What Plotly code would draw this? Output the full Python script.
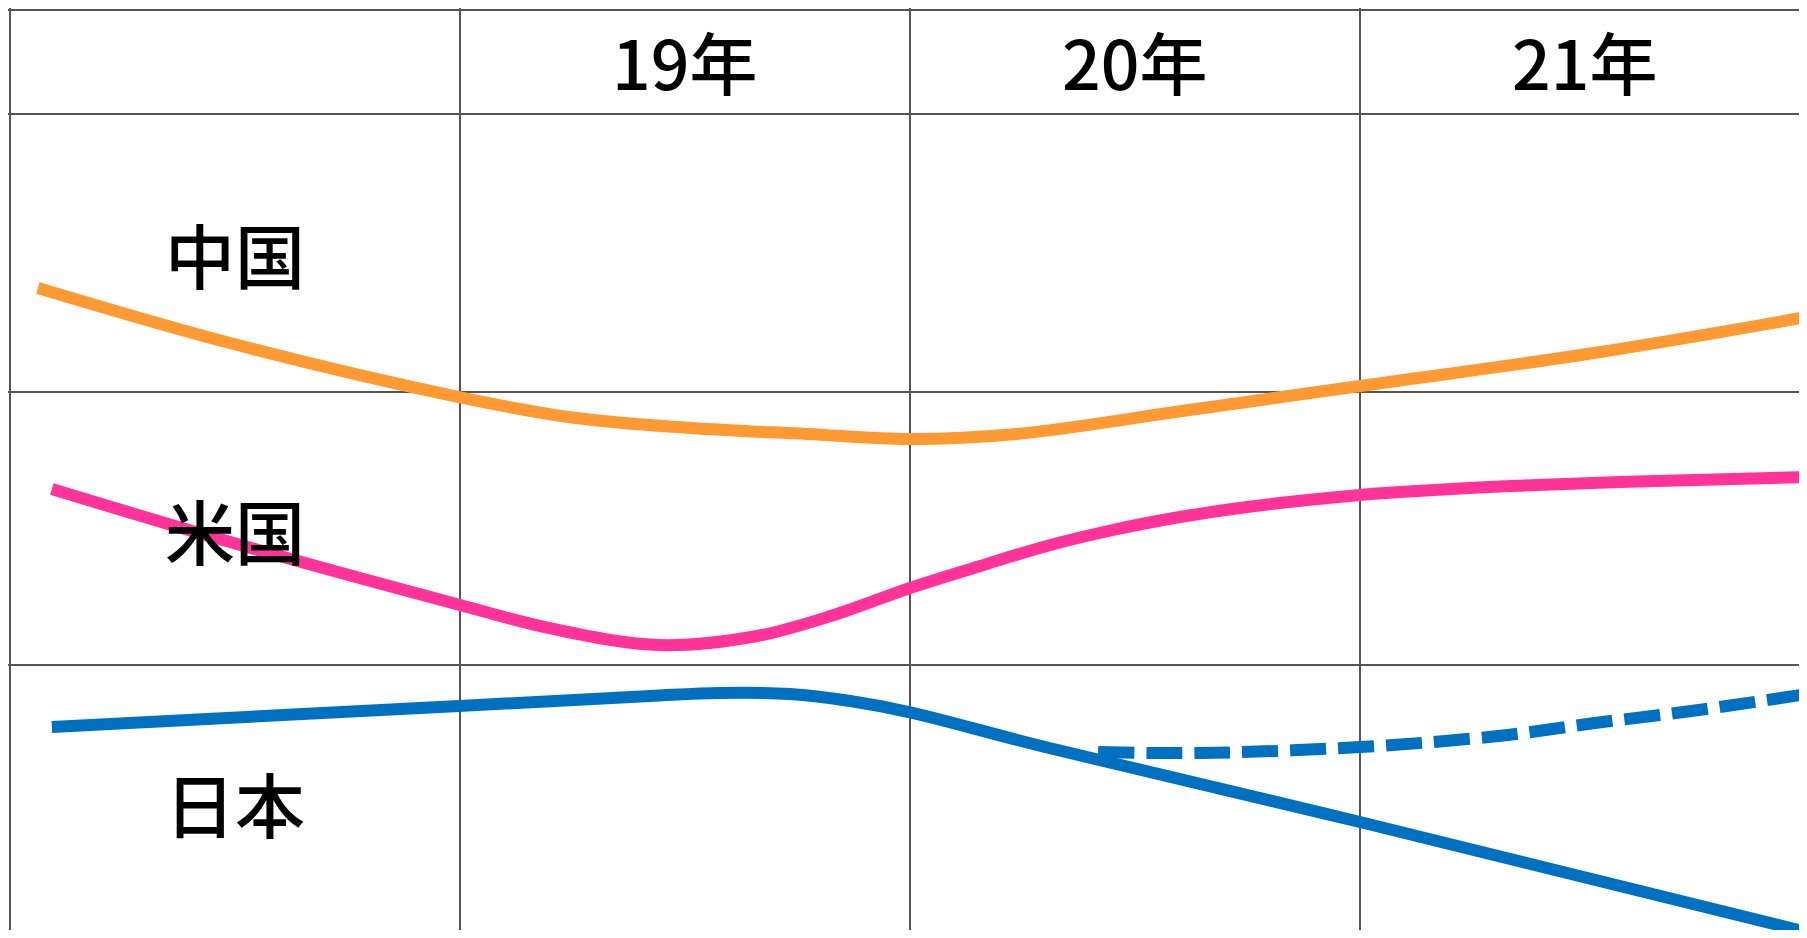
import plotly.graph_objects as go

# ---------------- data ----------------
col_labels = ["19年", "20年", "21年"]          # header cells (columns 1..3)
row_labels = ["中国", "米国", "日本"]          # row label cells (top to bottom)

# x in column units (0 = left edge of label column, 1 = start of 19年 ...)
china_x = [0.062, 0.489, 0.998, 1.258, 1.513, 1.771, 1.998, 2.236, 2.620, 3.000, 3.520, 3.993]
china_y = [69.67, 63.77, 57.98, 55.73, 54.66, 54.02, 53.48, 54.02, 56.59, 59.16, 62.70, 66.56]

usa_x = [0.093, 0.489, 1.000, 1.207, 1.444, 1.660, 1.831, 2.000, 2.156, 2.304, 2.451,
         2.600, 2.749, 3.000, 3.089, 3.311, 3.578, 3.993]
usa_y = [48.12, 42.44, 35.69, 33.12, 31.40, 32.37, 34.62, 37.51, 39.87, 42.02, 43.73,
         45.12, 46.20, 47.48, 47.80, 48.39, 48.87, 49.41]

japan_x = [0.093, 0.998, 1.422, 1.578, 1.733, 1.867, 1.998, 2.300, 3.000, 3.993]
japan_y = [22.62, 24.87, 25.94, 26.26, 26.15, 25.40, 24.22, 20.47, 12.43, 0.64]

japan_alt_x = [2.418, 2.644, 3.000, 3.307, 3.522, 3.753, 3.993]
japan_alt_y = [19.94, 19.83, 20.47, 21.65, 23.04, 24.44, 26.15]

# ---------------- table layout ----------------
col_edges = [0, 1, 2, 3]
row_edges = [29.26, 58.52, 88.32]             # horizontal rules between rows
TOP_RULE = 99.5

W, H = 1791, 922                               # fits inside the page's default body margin
COL_PX = 450.0                                 # pixels per column
Y_PX = 9.33                                    # pixels per value unit
X0_PX = 2                                      # figure-x of the table's left rule
Y0_PX = 930                                    # figure-y of value 0
X_RANGE = [-X0_PX / COL_PX, (W - X0_PX) / COL_PX]
Y_RANGE = [(Y0_PX - H) / Y_PX, Y0_PX / Y_PX]

FONT = "Noto Sans CJK JP, Noto Sans CJK SC, sans-serif"
GRID = "#555555"
LW = 12

fig = go.Figure()

series = [
    (china_x, china_y, "#FF9933", "solid"),
    (usa_x, usa_y, "#FF3399", "solid"),
    (japan_x, japan_y, "#0070C0", "solid"),
    (japan_alt_x, japan_alt_y, "#0070C0", "36px,12px"),
]
for xs, ys, col, dash in series:
    fig.add_trace(go.Scatter(x=xs, y=ys, mode="lines",
                             line=dict(color=col, width=LW, shape="spline",
                                       smoothing=1.0, dash=dash),
                             hoverinfo="skip"))

annotations = []
header_mid = (row_edges[2] + 100.0) / 2
for i, lab in enumerate(col_labels):
    annotations.append(dict(x=i + 1.5, y=header_mid, xref="x", yref="y", text=lab,
                            showarrow=False, yshift=-1.5,
                            font=dict(family=FONT, size=68, color="#000000", weight=500)))
row_bounds = [0.0] + row_edges
row_mids = [(row_bounds[k] + row_bounds[k + 1]) / 2 for k in range(3)][::-1]
for lab, ym in zip(row_labels, row_mids):
    annotations.append(dict(x=0.5, y=ym, xref="x", yref="y", text=lab,
                            showarrow=False, yshift=-1,
                            font=dict(family=FONT, size=70, color="#000000", weight=500)))

fig.update_layout(
    width=W, height=H,
    margin=dict(l=0, r=0, t=0, b=0, pad=0),
    paper_bgcolor="white", plot_bgcolor="white",
    showlegend=False,
    hovermode=False,
    annotations=annotations,
    xaxis=dict(range=X_RANGE, tickmode="array", tickvals=col_edges, showticklabels=False,
               showgrid=True, gridcolor=GRID, gridwidth=1.5, zeroline=False,
               showline=False, ticks="", fixedrange=True),
    yaxis=dict(range=Y_RANGE, tickmode="array", tickvals=row_edges + [TOP_RULE],
               showticklabels=False,
               showgrid=True, gridcolor=GRID, gridwidth=1.5, zeroline=False,
               showline=False, ticks="", fixedrange=True),
)

fig.write_html("out.html", config={"displayModeBar": False})
